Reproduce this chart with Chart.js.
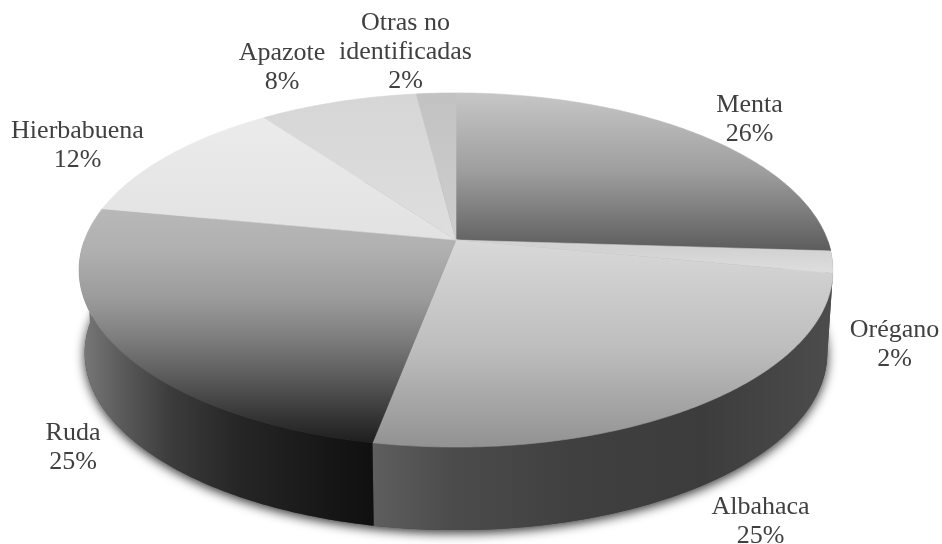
<!DOCTYPE html>
<html>
<head>
<meta charset="utf-8">
<style>
    html, body { margin: 0; padding: 0; background: #fff; }
    canvas { display: block; }
</style>
</head>
<body>
<canvas id="chart" width="942" height="544"></canvas>

<script src="https://cdn.jsdelivr.net/npm/chart.js"></script>

<script>
    const categories = ['Menta', 'Orégano', 'Albahaca', 'Ruda', 'Hierbabuena', 'Apazote', 'Otras no\nidentificadas']
    const shares = [26, 2, 25, 25, 12, 8, 2]

    // label centre of the first line, same order as categories
    const labelAnchors = [[749.5, 105], [894.5, 330], [760.5, 507], [73, 433], [77.5, 131], [282, 53], [405.5, 23]]

    // top face: vertical gradient [y, colour]
    const topShades = [
        [[93, '#c6c6c6'], [170, '#9f9f9f'], [251, '#5c5c5c']],
        [[250, '#d2d2d2'], [273, '#dedede']],
        [[243, '#d8d8d8'], [350, '#bdbdbd'], [447, '#929292']],
        [[209, '#b8b8b8'], [250, '#b0b0b0'], [300, '#9a9a9a'], [340, '#7c7c7c'], [380, '#585858'], [420, '#323232'], [443, '#1e1e1e']],
        [[118, '#ebebeb'], [240, '#e2e2e2']],
        [[94, '#d6d6d6'], [240, '#dedede']],
        [[93, '#c2c2c2'], [240, '#cecece']]
    ]
    // side wall: horizontal gradient [x, colour]
    const sideShades = [
        [[700, '#4c4c4c'], [840, '#4c4c4c']],
        [[700, '#4c4c4c'], [840, '#4c4c4c']],
        [[373, '#5e5e5e'], [450, '#4c4c4c'], [570, '#404040'], [700, '#3c3c3c'], [830, '#4c4c4c']],
        [[80, '#7a7a7a'], [120, '#5c5c5c'], [170, '#3c3c3c'], [237, '#262626'], [337, '#151515'], [373, '#101010']],
        [[80, '#7a7a7a'], [130, '#5c5c5c']],
        [[80, '#7a7a7a'], [130, '#5c5c5c']],
        [[80, '#7a7a7a'], [130, '#5c5c5c']]
    ]

    // perspective projection of the pie circle
    const apexX = 456, apexY = 240, spreadX = 371.5, spreadY = 172, tilt = 0.1695
    const wallDrop = 83, wallShrink = 0.985

    function rimPoint(angle, drop = 0, shrink = 1) {
        const theta = angle + Math.PI / 2
        const w = 1 + tilt * Math.cos(theta)
        return [
            apexX + shrink * spreadX * Math.sin(theta) / w,
            apexY + drop - spreadY * Math.cos(theta) / w
        ]
    }

    function traceRim(ctx, from, to, drop, shrink) {
        const steps = Math.max(2, Math.ceil(Math.abs(to - from) * 90))
        for (let i = 0; i <= steps; i++) {
            const p = rimPoint(from + (to - from) * i / steps, drop, shrink)
            ctx.lineTo(p[0], p[1])
        }
    }

    function gradient(ctx, stops, horizontal) {
        const a = stops[0][0], b = stops[stops.length - 1][0]
        const g = horizontal ? ctx.createLinearGradient(a, 0, b, 0) : ctx.createLinearGradient(0, a, 0, b)
        for (const [pos, colour] of stops) g.addColorStop((pos - a) / (b - a), colour)
        return g
    }

    class TiltArc extends Chart.ArcElement {
        draw(ctx) {
            const i = this.$context.dataIndex
            ctx.save()
            ctx.beginPath()
            ctx.moveTo(apexX, apexY)
            traceRim(ctx, this.startAngle, this.endAngle, 0, 1)
            ctx.closePath()
            const shade = gradient(ctx, topShades[i], false)
            ctx.fillStyle = shade
            ctx.fill()
            // hides the hairline seam between neighbours
            ctx.strokeStyle = shade
            ctx.lineWidth = 0.6
            ctx.stroke()
            ctx.restore()
        }
    }
    TiltArc.id = 'tiltArc'
    TiltArc.defaults = { ...Chart.ArcElement.defaults }

    class TiltPie extends Chart.PieController {}
    TiltPie.id = 'tiltPie'
    TiltPie.defaults = { ...Chart.PieController.defaults, dataElementType: 'tiltArc' }
    TiltPie.overrides = Chart.PieController.overrides

    Chart.register(TiltArc, TiltPie)

    const wallPlugin = {
        id: 'wall',
        beforeDatasetsDraw(chart) {
            const ctx = chart.ctx
            const arcs = chart.getDatasetMeta(0).data

            // soft shadow under the whole pie
            ctx.save()
            ctx.beginPath()
            traceRim(ctx, 0, Math.PI * 2, wallDrop, wallShrink)
            ctx.closePath()
            ctx.shadowColor = 'rgba(0,0,0,0.8)'
            ctx.shadowBlur = 11
            ctx.shadowOffsetY = 3
            ctx.fillStyle = '#444'
            ctx.fill()
            ctx.restore()

            // only the front half of each slice shows a wall
            arcs.forEach((arc, i) => {
                const from = Math.max(arc.startAngle, 0)
                const to = Math.min(arc.endAngle, Math.PI)
                if (to <= from) return
                ctx.save()
                ctx.beginPath()
                traceRim(ctx, from, to, 0, 1)
                traceRim(ctx, to, from, wallDrop, wallShrink)
                ctx.closePath()
                ctx.fillStyle = gradient(ctx, sideShades[i], true)
                ctx.fill()
                ctx.restore()
            })
        }
    }

    const labelPlugin = {
        id: 'sliceLabels',
        afterDraw(chart) {
            const ctx = chart.ctx
            ctx.save()
            ctx.font = '26px "Liberation Serif"'
            ctx.fillStyle = '#404040'
            ctx.textAlign = 'center'
            ctx.textBaseline = 'middle'
            categories.forEach((name, i) => {
                const lines = name.split('\n').concat(`${shares[i]}%`)
                lines.forEach((line, n) => {
                    ctx.fillText(line, labelAnchors[i][0], labelAnchors[i][1] + n * 29)
                })
            })
            ctx.restore()
        }
    }

    new Chart(document.getElementById('chart'), {
        type: 'tiltPie',
        data: {
            labels: categories,
            datasets: [{ data: shares, borderWidth: 0 }]
        },
        options: {
            responsive: false,
            animation: false,
            plugins: { legend: { display: false }, tooltip: { enabled: false } }
        },
        plugins: [wallPlugin, labelPlugin]
    })
</script>
</body>
</html>
